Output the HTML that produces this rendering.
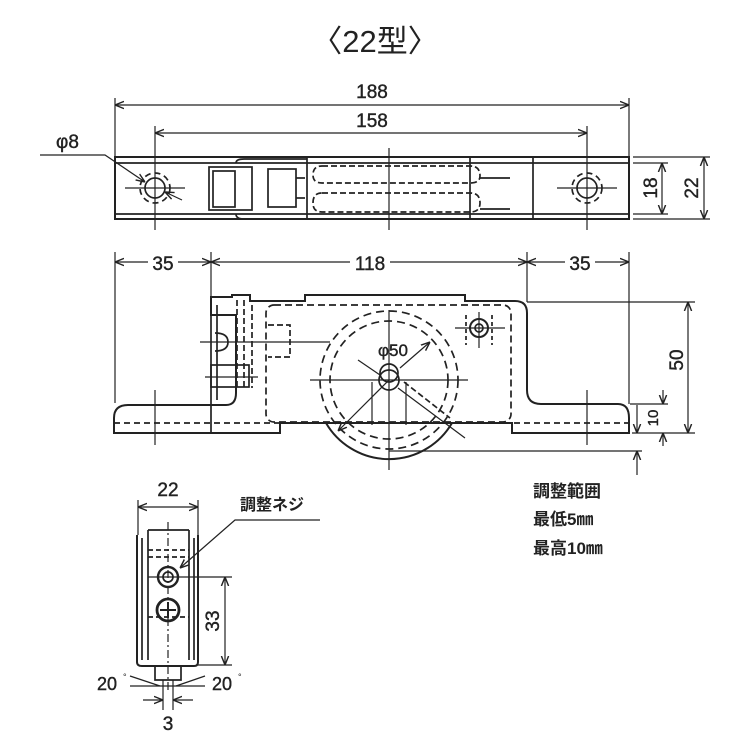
<!DOCTYPE html>
<html><head><meta charset="utf-8"><style>
html,body{margin:0;padding:0;background:#fff;}
svg{display:block;}
text{font-family:"Liberation Sans","Noto Sans CJK JP",sans-serif;fill:#222;}
</style></head><body>
<svg width="750" height="750" viewBox="0 0 750 750" xmlns="http://www.w3.org/2000/svg">
<defs>
<marker id="a" viewBox="0 0 10 10" refX="10" refY="5" markerWidth="9" markerHeight="9" orient="auto-start-reverse" markerUnits="userSpaceOnUse"><path d="M0,1 L10,5 L0,9" fill="none" stroke="#222" stroke-width="1.6"/></marker>
</defs>
<g stroke="#222" fill="none" stroke-width="1.7">
<text x="375" y="52" font-size="31" text-anchor="middle" stroke="none">〈22型〉</text>

<line x1="115" y1="98" x2="115" y2="156" stroke-width="1.2"/><line x1="629" y1="98" x2="629" y2="156" stroke-width="1.2"/>
<line x1="115" y1="105" x2="629" y2="105" stroke-width="1.2" marker-start="url(#a)" marker-end="url(#a)"/>
<text x="372" y="98" font-size="19" text-anchor="middle" stroke="#222" stroke-width="0.4">188</text>
<line x1="155" y1="126" x2="155" y2="230" stroke-width="1.2"/><line x1="587" y1="126" x2="587" y2="230" stroke-width="1.2"/>
<line x1="155" y1="133" x2="587" y2="133" stroke-width="1.2" marker-start="url(#a)" marker-end="url(#a)"/>
<text x="372" y="127" font-size="19" text-anchor="middle" stroke="#222" stroke-width="0.4">158</text>
<text x="56" y="148" font-size="19" stroke="#222" stroke-width="0.4">φ8</text>
<polyline points="40,155 105,155 145,182" stroke-width="1.2" marker-end="url(#a)"/>
<line x1="182" y1="200" x2="165" y2="192" stroke-width="1.2" marker-end="url(#a)"/>
<rect x="115" y="157" width="514" height="62" stroke-width="2"/>
<line x1="115" y1="163" x2="629" y2="163"/><line x1="115" y1="214" x2="629" y2="214"/>
<line x1="533" y1="157" x2="533" y2="219"/>
<line x1="389" y1="148" x2="389" y2="230" stroke-width="1.2"/>
<line x1="125" y1="188" x2="185" y2="188" stroke-width="1.2"/><line x1="557" y1="188" x2="617" y2="188" stroke-width="1.2"/>
<circle cx="155" cy="188" r="10"/><circle cx="155" cy="188" r="15" stroke-dasharray="6,4"/>
<circle cx="587" cy="188" r="10"/><circle cx="587" cy="188" r="15" stroke-dasharray="6,4"/>
<rect x="209" y="167" width="43" height="43"/>
<rect x="213" y="171" width="22" height="36"/>
<path d="M236,163 Q236,159 244,159 L307,159 M236,214 Q236,219 244,219 L307,219" />
<rect x="268" y="169" width="28" height="38"/>
<line x1="296" y1="178" x2="305" y2="178"/><line x1="296" y1="198" x2="305" y2="198"/>
<path d="M307,157 L307,219 M470,157 L470,219"/>
<path d="M322,166 L470,166 Q480,166 480,176 Q480,183 470,183 L322,183 Q313,183 313,175 Q313,166 322,166" stroke-dasharray="6,3"/>
<path d="M322,193 L470,193 Q480,193 480,203 Q480,212 470,212 L322,212 Q313,212 313,203 Q313,193 322,193" stroke-dasharray="6,3"/>
<line x1="480" y1="178" x2="510" y2="178"/><line x1="480" y1="209" x2="510" y2="209"/>
<line x1="633" y1="157" x2="710" y2="157" stroke-width="1.2"/><line x1="633" y1="219" x2="710" y2="219" stroke-width="1.2"/>
<line x1="633" y1="163" x2="668" y2="163" stroke-width="1.2"/><line x1="633" y1="214" x2="668" y2="214" stroke-width="1.2"/>
<line x1="662" y1="163" x2="662" y2="214" stroke-width="1.2" marker-start="url(#a)" marker-end="url(#a)"/>
<line x1="704" y1="157" x2="704" y2="219" stroke-width="1.2" marker-start="url(#a)" marker-end="url(#a)"/>
<text transform="translate(657,188) rotate(-90)" font-size="19" text-anchor="middle" stroke="#222" stroke-width="0.4">18</text>
<text transform="translate(698,188) rotate(-90)" font-size="19" text-anchor="middle" stroke="#222" stroke-width="0.4">22</text>

<line x1="115" y1="252" x2="115" y2="403" stroke-width="1.2"/>
<line x1="211" y1="252" x2="211" y2="300" stroke-width="1.2"/>
<line x1="527" y1="252" x2="527" y2="302" stroke-width="1.2"/>
<line x1="629" y1="252" x2="629" y2="404" stroke-width="1.2"/>
<line x1="115" y1="262" x2="211" y2="262" stroke-width="1.2" marker-start="url(#a)" marker-end="url(#a)"/>
<line x1="211" y1="262" x2="527" y2="262" stroke-width="1.2" marker-start="url(#a)" marker-end="url(#a)"/>
<line x1="527" y1="262" x2="629" y2="262" stroke-width="1.2" marker-start="url(#a)" marker-end="url(#a)"/>
<rect x="148" y="252" width="30" height="20" fill="#fff" stroke="none"/>
<rect x="350" y="252" width="40" height="20" fill="#fff" stroke="none"/>
<rect x="565" y="252" width="30" height="20" fill="#fff" stroke="none"/>
<text x="163" y="270" font-size="19" text-anchor="middle" stroke="#222" stroke-width="0.4">35</text>
<text x="370" y="270" font-size="19" text-anchor="middle" stroke="#222" stroke-width="0.4">118</text>
<text x="580" y="270" font-size="19" text-anchor="middle" stroke="#222" stroke-width="0.4">35</text>
<path d="M114,433 L114,418 Q114,405 128,405 L226,405 Q236,405 236,393 L236,315 L211,315 L211,297 L232,297 L232,295 L250,295 L250,301 L305,301 L305,295 L465,295 L465,301 L515,301 Q527,301 527,313 L527,390 Q527,404 541,404 L618,404 Q629,404 629,418 L629,433 L512,433 L512,423 L280,423 L280,433 Z" stroke-width="2"/>
<line x1="211" y1="315" x2="211" y2="433"/>
<line x1="217" y1="305" x2="217" y2="400"/>
<line x1="114" y1="423" x2="629" y2="423" stroke-dasharray="6,4"/>
<rect x="266" y="305" width="245" height="117" rx="8" stroke-dasharray="7,4"/>
<path d="M237,300 L237,388 M244,300 L244,388 M252,305 L252,388" stroke-dasharray="6,3"/>
<path d="M268,325 L290,325 L290,357 L268,357" stroke-dasharray="6,3"/>
<line x1="200" y1="342" x2="330" y2="342" stroke-width="1.2"/>
<line x1="205" y1="377" x2="258" y2="377" stroke-width="1.2"/>
<path d="M215,333 Q228,333 228,342 Q228,351 215,351"/>
<rect x="211" y="365" width="38" height="22"/>
<line x1="155" y1="390" x2="155" y2="445" stroke-width="1.2"/><line x1="587" y1="390" x2="587" y2="445" stroke-width="1.2"/>
<circle cx="389" cy="380" r="69" stroke-dasharray="8,5"/>
<circle cx="389" cy="380" r="59" stroke-dasharray="8,5"/>
<path d="M326,423 A73,73 0 0 0 452,423" stroke-width="2"/>
<line x1="389" y1="310" x2="389" y2="470" stroke-width="1.2"/>
<line x1="310" y1="380" x2="468" y2="380" stroke-width="1.2"/>
<circle cx="389" cy="380" r="10"/>
<circle cx="389" cy="373" r="9"/>
<line x1="389" y1="380" x2="338" y2="431" stroke-width="1.2" marker-end="url(#a)"/>
<line x1="398" y1="388" x2="465" y2="438" stroke-width="1.2"/>
<line x1="404" y1="382" x2="450" y2="418" stroke-dasharray="6,3"/>
<line x1="358" y1="360" x2="380" y2="375" stroke-width="1.2"/>
<line x1="400" y1="368" x2="430" y2="342" stroke-width="1.2" marker-end="url(#a)"/>
<text x="378" y="356" font-size="17" stroke="#222" stroke-width="0.4">φ50</text>
<line x1="372" y1="382" x2="372" y2="425" stroke-width="1.2"/><line x1="406" y1="382" x2="406" y2="425" stroke-width="1.2"/>
<circle cx="479" cy="328" r="9" stroke-width="2"/>
<circle cx="479" cy="328" r="4"/>
<line x1="455" y1="328" x2="505" y2="328" stroke-width="1.2"/>
<line x1="479" y1="312" x2="479" y2="348" stroke-width="1.2"/>
<line x1="466" y1="315" x2="466" y2="345" stroke-dasharray="4,3"/><line x1="492" y1="315" x2="492" y2="345" stroke-dasharray="4,3"/>
<line x1="527" y1="302" x2="695" y2="302" stroke-width="1.2"/>
<line x1="632" y1="433" x2="695" y2="433" stroke-width="1.2"/>
<line x1="630" y1="404" x2="668" y2="404" stroke-width="1.2"/>
<line x1="688" y1="302" x2="688" y2="433" stroke-width="1.2" marker-start="url(#a)" marker-end="url(#a)"/>
<text transform="translate(683,360) rotate(-90)" font-size="19" text-anchor="middle" stroke="#222" stroke-width="0.4">50</text>
<line x1="663" y1="390" x2="663" y2="404" stroke-width="1.2" marker-end="url(#a)"/>
<line x1="663" y1="446" x2="663" y2="433" stroke-width="1.2" marker-end="url(#a)"/>
<text transform="translate(658,418) rotate(-90)" font-size="15" text-anchor="middle" stroke="#222" stroke-width="0.4">10</text>
<line x1="389" y1="451" x2="642" y2="451" stroke-width="1.2"/>
<line x1="637" y1="405" x2="637" y2="433" stroke-width="1.2" marker-end="url(#a)"/>
<line x1="637" y1="475" x2="637" y2="451" stroke-width="1.2" marker-end="url(#a)"/>
<text x="533" y="497" font-size="17" font-weight="bold" stroke="none">調整範囲</text>
<text x="533" y="525" font-size="17" font-weight="bold" stroke="none">最低5㎜</text>
<text x="533" y="554" font-size="17" font-weight="bold" stroke="none">最高10㎜</text>

<text x="168" y="496" font-size="19" text-anchor="middle" stroke="#222" stroke-width="0.4">22</text>
<line x1="138" y1="500" x2="138" y2="535" stroke-width="1.2"/><line x1="198" y1="500" x2="198" y2="535" stroke-width="1.2"/>
<line x1="138" y1="507" x2="198" y2="507" stroke-width="1.2" marker-start="url(#a)" marker-end="url(#a)"/>
<text x="240" y="510" font-size="16" font-weight="bold" stroke="none">調整ネジ</text>
<polyline points="320,520 235,520 180,568" stroke-width="1.2" marker-end="url(#a)"/>
<path d="M137,535 L137,662 Q137,666 142,666 L194,666 Q198,666 198,662 L198,535" stroke-width="2"/>
<path d="M148,530 L189,530 M148,530 L148,660 M189,530 L189,660 M142,538 L142,660 M194,538 L194,660"/>
<line x1="168" y1="522" x2="168" y2="690" stroke-width="1.2" stroke-dasharray="8,3,2,3"/>
<line x1="148" y1="550" x2="189" y2="550" stroke-dasharray="5,3"/>
<line x1="148" y1="557" x2="189" y2="557" stroke-dasharray="5,3"/>
<circle cx="168" cy="577" r="10" stroke-width="2.4"/><circle cx="168" cy="577" r="5"/>
<circle cx="168" cy="610" r="11" stroke-width="2.8"/>
<line x1="160" y1="610" x2="176" y2="610" stroke-width="2"/><line x1="168" y1="602" x2="168" y2="618" stroke-width="2"/>
<line x1="148" y1="577" x2="232" y2="577" stroke-width="1.2"/>
<line x1="148" y1="617" x2="189" y2="617" stroke-dasharray="5,3"/>
<line x1="198" y1="665" x2="232" y2="665" stroke-width="1.2"/>
<line x1="225" y1="577" x2="225" y2="665" stroke-width="1.2" marker-start="url(#a)" marker-end="url(#a)"/>
<text transform="translate(219,621) rotate(-90)" font-size="19" text-anchor="middle" stroke="#222" stroke-width="0.4">33</text>
<path d="M155,666 L155,680 L181,680 L181,666"/>
<line x1="130" y1="686" x2="205" y2="686" stroke-width="1.2"/>
<line x1="130" y1="676" x2="160" y2="686" stroke-width="1.2"/><line x1="205" y1="676" x2="176" y2="686" stroke-width="1.2"/>
<text x="97" y="690" font-size="18" stroke="#222" stroke-width="0.4">20</text><text x="123" y="680" font-size="9" stroke="none">°</text>
<text x="212" y="690" font-size="18" stroke="#222" stroke-width="0.4">20</text><text x="238" y="680" font-size="9" stroke="none">°</text>
<line x1="163" y1="680" x2="163" y2="710" stroke-width="1.2"/><line x1="173" y1="680" x2="173" y2="710" stroke-width="1.2"/>
<line x1="143" y1="700" x2="163" y2="700" stroke-width="1.2" marker-end="url(#a)"/>
<line x1="193" y1="700" x2="173" y2="700" stroke-width="1.2" marker-end="url(#a)"/>
<text x="168" y="730" font-size="19" text-anchor="middle" stroke="#222" stroke-width="0.4">3</text>
</g>
</svg>
</body></html>
